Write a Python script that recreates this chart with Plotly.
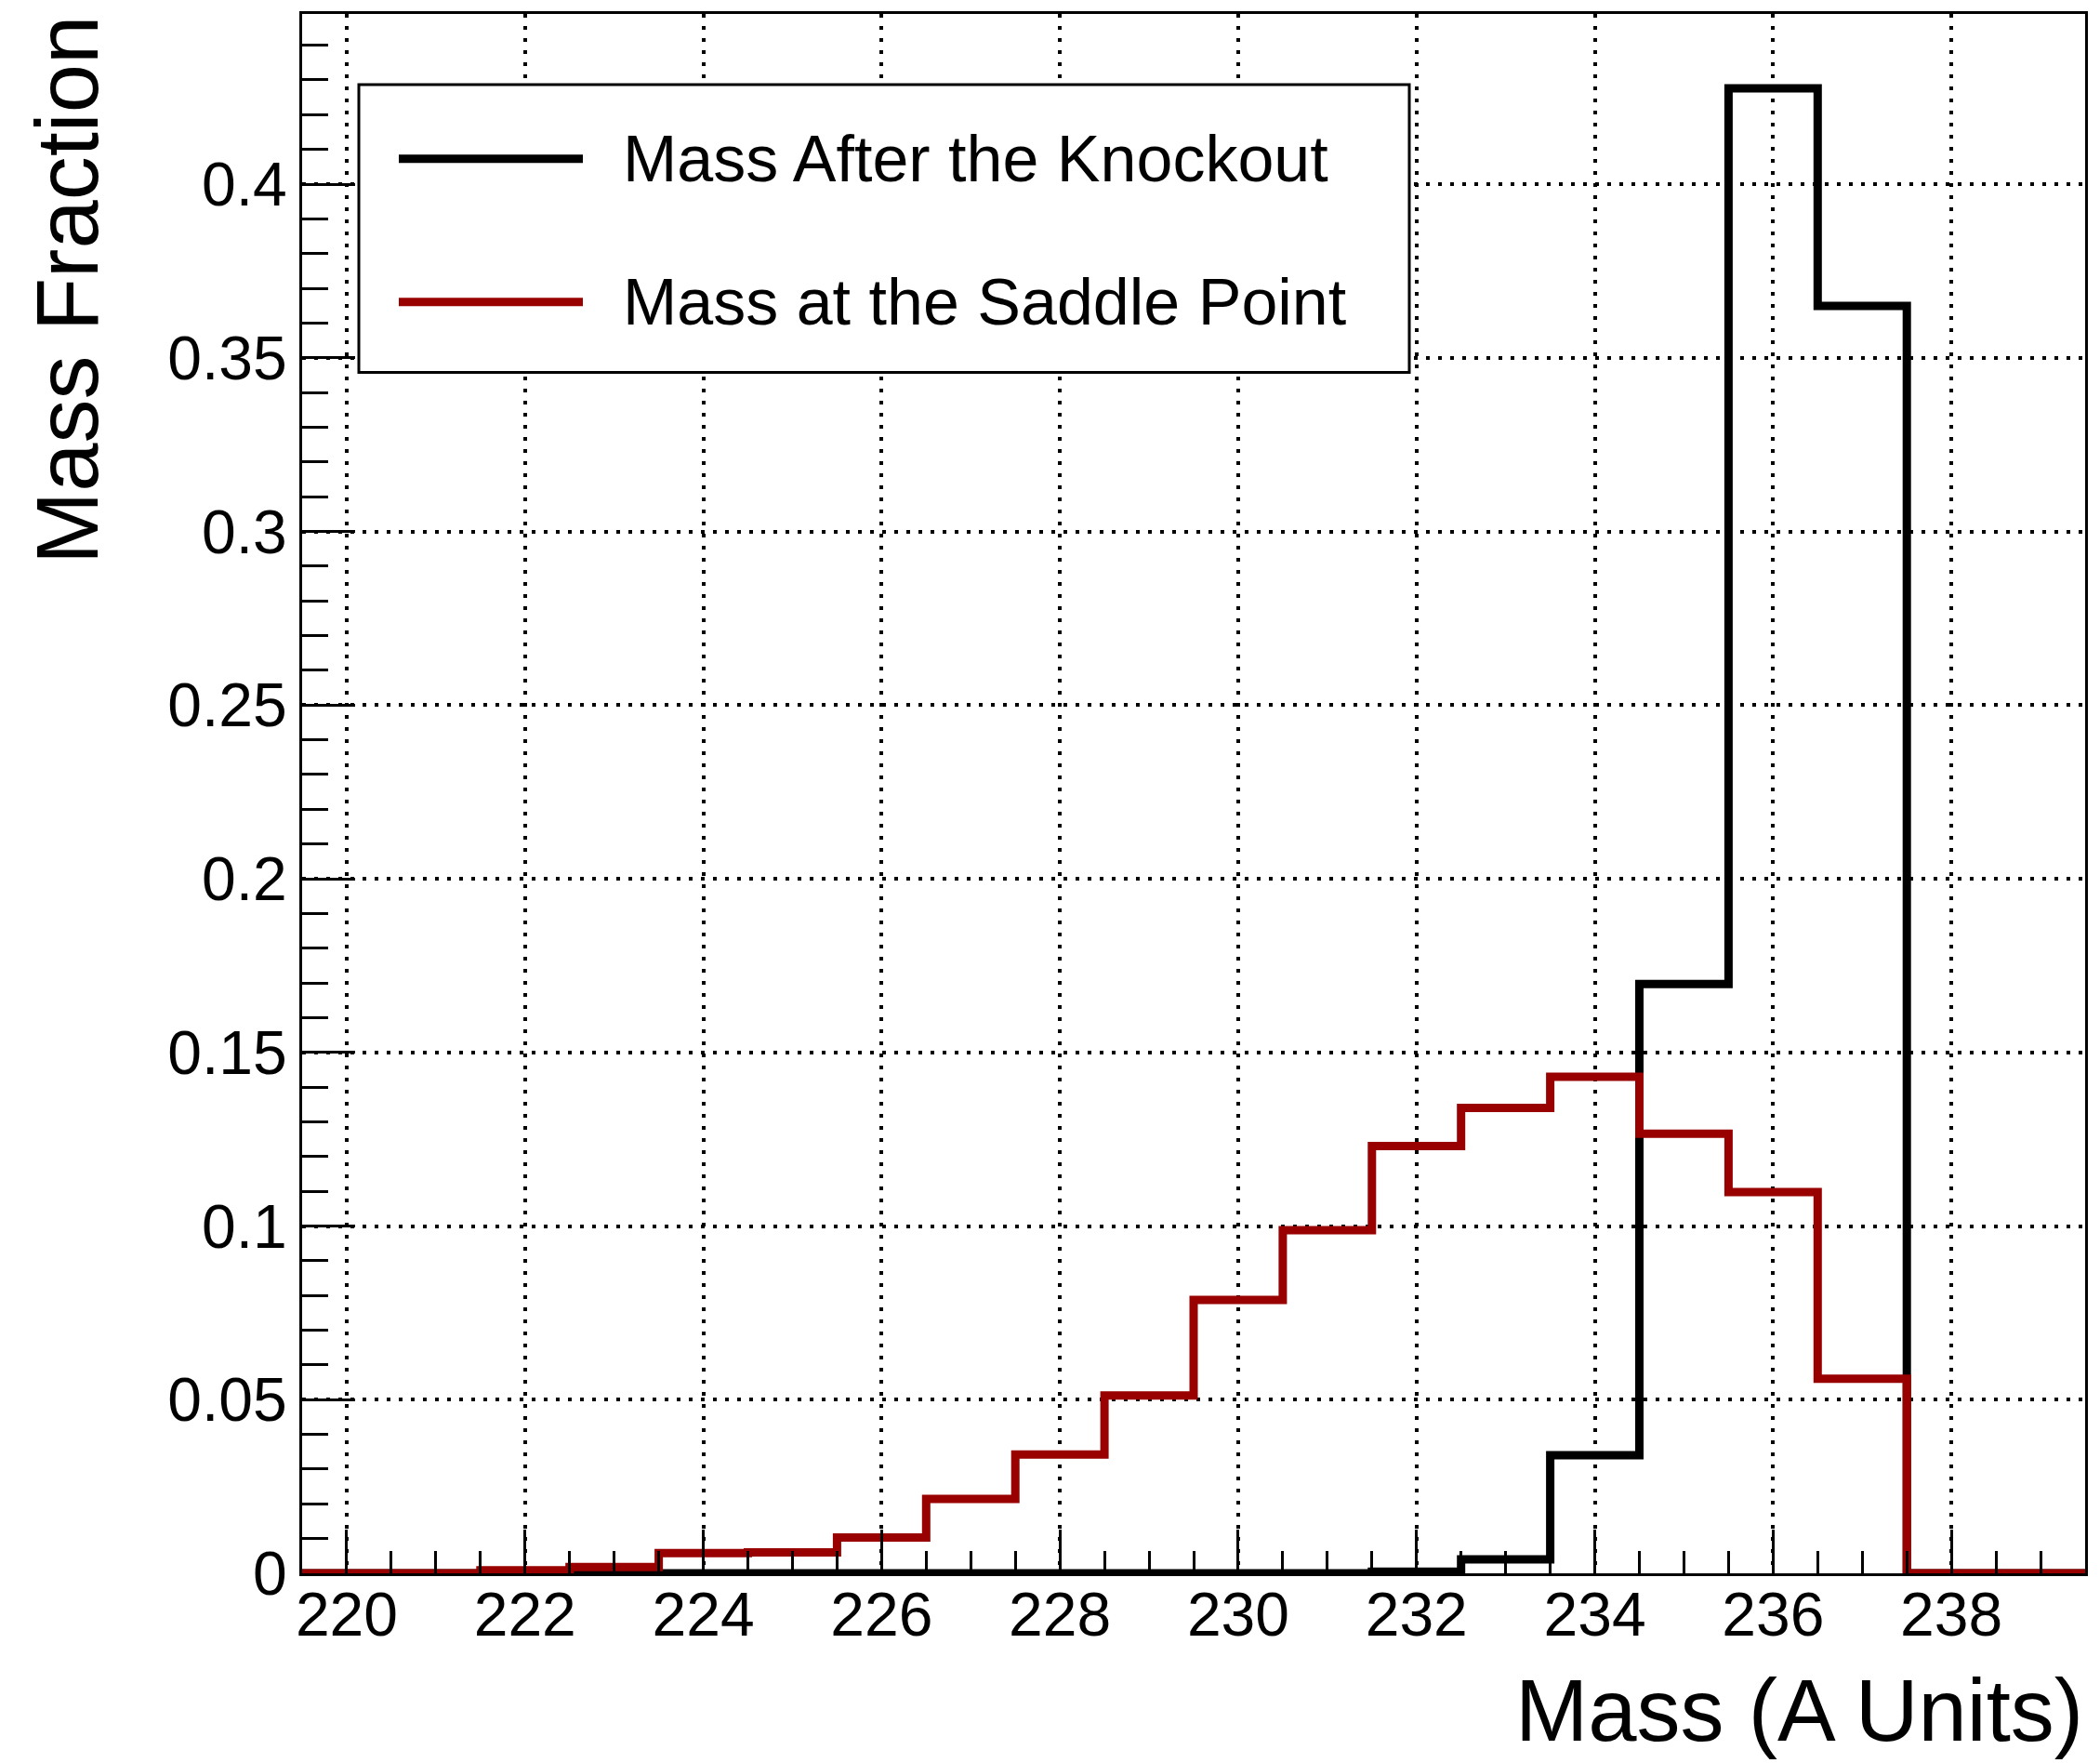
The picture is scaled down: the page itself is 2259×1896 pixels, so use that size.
import plotly.graph_objects as go

# ---- data ----
mass_bins = [220, 221, 222, 223, 224, 225, 226, 227, 228, 229,
             230, 231, 232, 233, 234, 235, 236, 237, 238, 239]
after_knockout = [0, 0, 0, 0, 0, 0, 0, 0, 0, 0,
                  0, 0, 0.0005, 0.004, 0.034, 0.1697, 0.4276, 0.3649, 0, 0]
saddle_point = [0, 0, 0.0009, 0.0018, 0.0058, 0.006, 0.0103, 0.0214, 0.0342, 0.0512,
                0.0787, 0.0988, 0.123, 0.134, 0.143, 0.1266, 0.1098, 0.056, 0, 0]
series_names = ["Mass After the Knockout", "Mass at the Saddle Point"]
x_tick_vals = [220, 222, 224, 226, 228, 230, 232, 234, 236, 238]
y_tick_vals = [0, 0.05, 0.1, 0.15, 0.2, 0.25, 0.3, 0.35, 0.4]
y_tick_text = ["0", "0.05", "0.1", "0.15", "0.2", "0.25", "0.3", "0.35", "0.4"]
x_title = "Mass (A Units)"
y_title = "Mass Fraction"

# ---- figure geometry ----
W, H = 2259, 1896
L, R, T, B = 325, 16, 13, 204
PW, PH = W - L - R, H - T - B
FONT = "Liberation Sans, Arial, Helvetica, sans-serif"
BLACK = "#000000"
RED = "#990000"


def px(xp):
    return (xp - L) / PW


def py(yp):
    return (H - B - yp) / PH


def step(vals):
    edges = [c - 0.5 for c in mass_bins] + [mass_bins[-1] + 0.5]
    return edges, list(vals) + [vals[-1]]


fig = go.Figure()
for vals, color, name in [(after_knockout, BLACK, series_names[0]),
                          (saddle_point, RED, series_names[1])]:
    xs, ys = step(vals)
    fig.add_trace(go.Scatter(x=xs, y=ys, mode="lines", line_shape="hv",
                             line=dict(color=color, width=9), name=name,
                             cliponaxis=False, showlegend=False))

axis_common = dict(showline=True, linecolor=BLACK, linewidth=3, mirror=True,
                   ticks="inside", tickcolor=BLACK, tickwidth=3,
                   showgrid=True, gridcolor=BLACK, gridwidth=4, griddash="4px,9px",
                   zeroline=False, tickfont=dict(family=FONT, size=66, color=BLACK))

fig.update_xaxes(range=[219.5, 239.5], tickmode="array", tickvals=x_tick_vals,
                 ticklen=47, ticklabelstandoff=-15,
                 minor=dict(tickmode="linear", tick0=219.5, dtick=0.5, ticks="inside",
                            ticklen=24, tickwidth=3, tickcolor=BLACK, showgrid=False),
                 **axis_common)
fig.update_yaxes(range=[0, 0.449], tickmode="array", tickvals=y_tick_vals,
                 ticktext=y_tick_text, ticklen=57,
                 minor=dict(tickmode="linear", tick0=0, dtick=0.01, ticks="inside",
                            ticklen=28, tickwidth=3, tickcolor=BLACK, showgrid=False),
                 **axis_common)

# legend box drawn by hand to match ROOT's legend look
shapes = [
    dict(type="rect", xref="paper", yref="paper", x0=px(386), x1=px(1516),
         y0=py(399), y1=py(89), line=dict(color=BLACK, width=3), fillcolor="white",
         layer="above"),
    dict(type="line", xref="paper", yref="paper", x0=px(429), x1=px(627),
         y0=py(169), y1=py(169), line=dict(color=BLACK, width=9)),
    dict(type="line", xref="paper", yref="paper", x0=px(429), x1=px(627),
         y0=py(323), y1=py(323), line=dict(color=RED, width=9)),
]
annotations = [
    dict(text=series_names[0], xref="paper", yref="paper", x=px(668), y=py(169),
         xanchor="left", yanchor="middle", showarrow=False,
         font=dict(family=FONT, size=70, color=BLACK)),
    dict(text=series_names[1], xref="paper", yref="paper", x=px(668), y=py(323),
         xanchor="left", yanchor="middle", showarrow=False,
         font=dict(family=FONT, size=70, color=BLACK)),
    dict(text=x_title, xref="paper", yref="paper", x=1.0, y=py(1840),
         xanchor="right", yanchor="middle", showarrow=False,
         font=dict(family=FONT, size=94, color=BLACK)),
    dict(text=y_title, xref="paper", yref="paper", x=px(72), y=1.0,
         xanchor="center", yanchor="top", textangle=-90, showarrow=False,
         font=dict(family=FONT, size=94, color=BLACK)),
]

fig.update_layout(width=W, height=H, margin=dict(l=L, r=R, t=T, b=B, pad=0),
                  paper_bgcolor="white", plot_bgcolor="white",
                  shapes=shapes, annotations=annotations, showlegend=False,
                  font=dict(family=FONT, color=BLACK))

fig.write_html("out.html")
